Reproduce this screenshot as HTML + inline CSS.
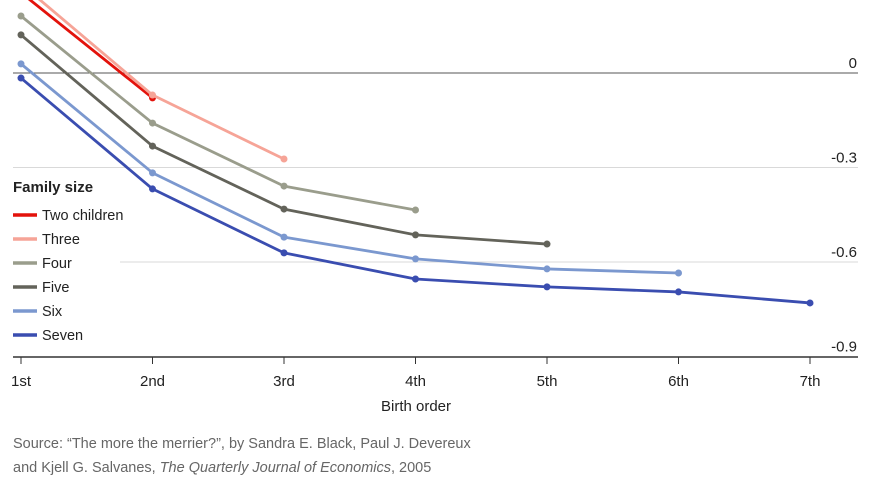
<!DOCTYPE html>
<html><head><meta charset="utf-8"><style>
body{margin:0;background:#fff;font-family:"Liberation Sans",sans-serif}
svg{display:block}
text{font-family:"Liberation Sans",sans-serif;fill:#222}
</style></head><body>
<svg id="chart" width="870" height="492" viewBox="0 0 870 492">
<g id="grid"></g>
<rect x="8" y="172" width="112" height="178" fill="#fff"/>
<g id="series"></g><g id="axes"></g>
<g>
<text x="13" y="192" font-size="15" font-weight="bold">Family size</text>
<g id="legend"></g>
</g>
<text x="416" y="411" font-size="15" text-anchor="middle">Birth order</text>
<text x="13" y="448" font-size="14.5" style="fill:#666">Source: “The more the merrier?”, by Sandra E. Black, Paul J. Devereux</text>
<text x="13" y="472" font-size="14.5" style="fill:#666">and Kjell G. Salvanes, <tspan font-style="italic">The Quarterly Journal of Economics</tspan>, 2005</text>
</svg>
<script>
const categories=["1st","2nd","3rd","4th","5th","6th","7th"];
const yTicks=[0,-0.3,-0.6,-0.9];
const yTickLabels=["0","-0.3","-0.6","-0.9"];
const seriesNames=["Two children","Three","Four","Five","Six","Seven"];
const seriesColors=["#e3120b","#f6a497","#9a9d8c","#63635a","#7b98cf","#3a4db0"];
const twoChildren=[0.255,-0.079];
const three=[0.283,-0.07,-0.273];
const four=[0.181,-0.159,-0.359,-0.435];
const five=[0.121,-0.232,-0.432,-0.514,-0.543];
const six=[0.029,-0.317,-0.521,-0.59,-0.622,-0.635];
const seven=[-0.016,-0.368,-0.571,-0.654,-0.679,-0.695,-0.73];
const seriesValues=[twoChildren,three,four,five,six,seven];
const NS="http://www.w3.org/2000/svg";
const x=i=>21+i*131.5;
const y=v=>73-v*315;
function mk(tag,attrs,parent){const e=document.createElementNS(NS,tag);for(const k in attrs)e.setAttribute(k,attrs[k]);parent.appendChild(e);return e;}
const grid=document.getElementById('grid'),axes=document.getElementById('axes'),ser=document.getElementById('series'),leg=document.getElementById('legend');
yTicks.forEach((t,i)=>{
 if(i<3){const l=mk('line',{x1:13,x2:858,y1:y(t),y2:y(t),stroke:t===0?'#555':'#d9d9d9','stroke-width':1},grid);
 
 }
 const tx=mk('text',{x:857,y:y(t)-5,'font-size':15,'text-anchor':'end'},axes);tx.textContent=yTickLabels[i];
 
 
});
const ax=mk('line',{x1:13,x2:858,y1:357,y2:357,stroke:'#333','stroke-width':1.5},axes);


categories.forEach((c,i)=>{
 const tk=mk('line',{x1:x(i),x2:x(i),y1:357,y2:364,stroke:'#333','stroke-width':1},axes);
 
 
 const t=mk('text',{x:x(i),y:386,'font-size':15,'text-anchor':'middle'},axes);t.textContent=c;
 
 
});
seriesValues.forEach((vals,s)=>{
 const g=mk('g',{},ser);
 
 
 const p=mk('polyline',{points:vals.map((v,i)=>x(i)+','+y(v)).join(' '),fill:'none',stroke:seriesColors[s],'stroke-width':2.8,'stroke-linejoin':'round'},g);
 
 
 vals.forEach((v,i)=>{const c=mk('circle',{cx:x(i),cy:y(v),r:3.5,fill:seriesColors[s]},g);
 
 });
 const ly=215+s*24;
 const ll=mk('line',{x1:13,x2:37,y1:ly,y2:ly,stroke:seriesColors[s],'stroke-width':3.5},leg);
 
 
 const lt=mk('text',{x:42,y:ly+5,'font-size':14.5},leg);lt.textContent=seriesNames[s];
 
 
});
</script>
</body></html>
